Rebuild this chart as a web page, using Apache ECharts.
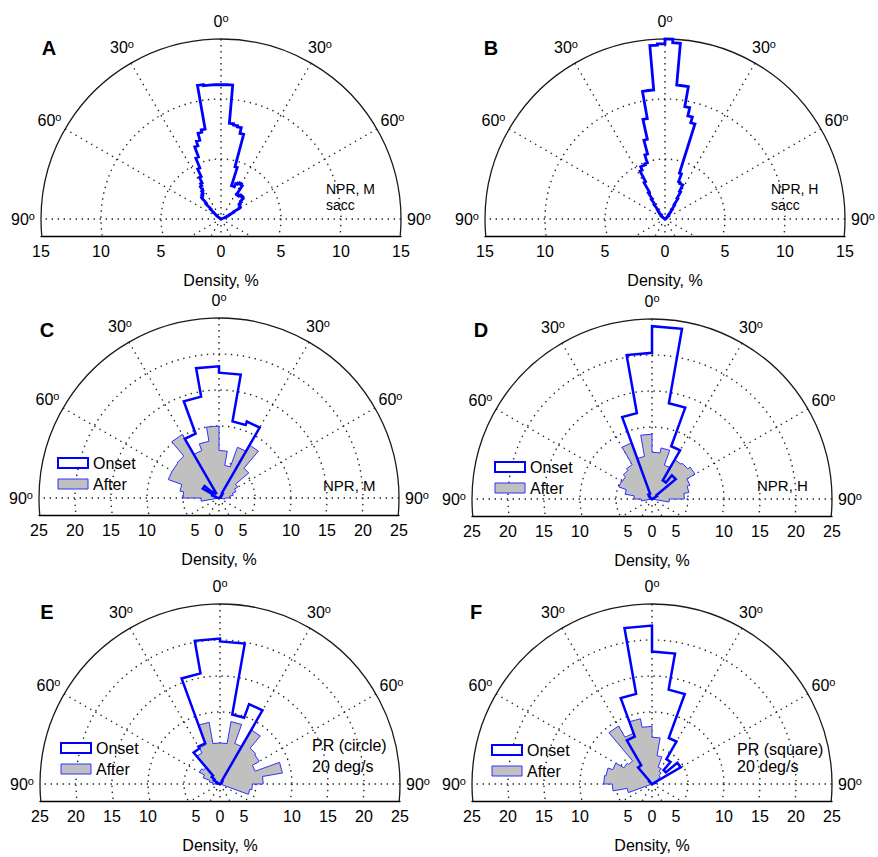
<!DOCTYPE html>
<html>
<head>
<meta charset="utf-8">
<script src="https://cdn.jsdelivr.net/npm/echarts@6/dist/echarts.min.js"></script>
<style>
  html, body { margin: 0; padding: 0; background: #ffffff; }
  #chart { width: 878px; height: 857px; }
</style>
</head>
<body>
<div id="chart"></div>
<script>
// ---------- data ----------
// Saccade direction histograms, 2.5 deg bins (panels A, B)
const saccEdges = [-55, -52.5, -50, -47.5, -45, -42.5, -40, -37.5, -35, -32.5, -30, -27.5, -25, -22.5,
  -20, -17.5, -15, -12.5, -10, -7.5, -5, -2.5, 0, 2.5, 5, 7.5, 10, 12.5, 15, 17.5, 20, 22.5, 25, 27.5,
  30, 32.5, 35, 37.5, 40, 42.5, 45, 47.5, 50, 52.5, 55, 57.5, 60, 62.5, 65, 67.5, 70];
const saccNprM = [0.3, 0.5, 0.8, 1.2, 1.8, 2.4, 2.5, 2.6, 2.8, 3.2, 3.4, 3.9, 4.6, 5.5, 6.4, 6.8, 7.4, 7.6,
  11.3, 11.2, 11.2, 11.2, 11.2, 11.2, 8.0, 7.9, 7.8, 7.3, 4.5, 2.9, 2.9, 3.2, 3.3, 3.4, 3.3, 2.4, 2.4, 2.5,
  2.6, 2.6, 2.5, 2.2, 2.0, 1.9, 1.9, 1.8, 1.2, 0.8, 0.6, 0.4];
const saccNprH = [0.2, 0.3, 0.4, 0.5, 0.6, 0.8, 1.0, 1.5, 2.0, 2.6, 3.5, 4.5, 4.8, 4.8, 4.9, 5.6, 6.8, 8.5,
  10.8, 10.8, 14.5, 14.6, 15.0, 14.7, 11.2, 11.2, 9.5, 8.8, 8.3, 4.0, 3.3, 3.2, 3.2, 2.6, 2.0, 1.4, 1.0, 0.7,
  0.5, 0.4, 0.3, 0.2, 0.2, 0.1, 0.1, 0.1, 0, 0, 0, 0];

// Pursuit direction histograms, 10 deg bins (panels C-F)
const pursuitEdges = [-110, -100, -90, -80, -70, -60, -50, -40, -30, -20, -10, 0, 10, 20, 30, 40, 50, 60,
  70, 80, 90, 100, 110];
const onsetNprM  = [0, 0, 0, 0.5, 1.0, 2.6, 1.2, 0.8, 9.5, 14.3, 18.3, 17.4, 10.8, 11.3, 0.8, 0.5, 0.3, 0.2, 0, 0, 0, 0];
const afterNprM  = [0, 2.5, 5.0, 5.5, 7.5, 7.5, 7.6, 10.2, 7.0, 8.0, 10.0, 6.6, 4.6, 7.5, 8.5, 5.4, 3.0, 2.5, 2.0, 1.5, 0.8, 0];
const onsetNprH  = [0, 0, 0, 0, 0, 0.3, 0.5, 0.8, 0.8, 12.1, 20.3, 24.0, 13.5, 7.8, 3.0, 4.3, 0.8, 0.3, 0, 0, 0, 0];
const afterNprH  = [0, 1.5, 2.5, 3.8, 4.9, 4.8, 5.2, 5.5, 8.3, 6.0, 9.0, 6.5, 7.2, 5.0, 6.3, 6.5, 6.9, 5.6, 5.2, 4.5, 2.4, 0];
const onsetCircle = [0, 0, 0, 0, 0.5, 1.0, 1.5, 5.7, 6.0, 15.6, 20.2, 19.8, 9.8, 11.8, 0.5, 0.3, 0.2, 0, 0, 0, 0, 0];
const afterCircle = [0, 0.5, 1.0, 1.5, 2.5, 3.3, 3.0, 5.0, 5.8, 8.7, 5.7, 5.7, 8.8, 6.0, 8.7, 6.5, 6.3, 5.2, 8.8, 6.0, 4.5, 4.2];
const onsetSquare = [0, 0, 0, 0, 0, 0, 0.5, 3.0, 7.0, 12.7, 22.0, 18.4, 13.3, 6.8, 4.0, 2.5, 4.6, 0.5, 0, 0, 0, 0];
const afterSquare = [3.5, 5.5, 6.7, 6.5, 5.8, 4.5, 4.2, 9.3, 7.5, 9.2, 8.0, 6.5, 4.0, 2.5, 2.0, 1.5, 1.2, 0.8, 0.5, 0.3, 0, 0];

// Axis / grid values
const degreeTicks = [-90, -60, -30, 0, 30, 60, 90];
const spokeAngles = [0, 30, 60, 90, -30, -60];
const ringsSacc = [5, 10];
const ringsPursuit = [5, 10, 15, 20];
const panelLetters = ['A', 'B', 'C', 'D', 'E', 'F'];

// ---------- layout & style ----------
const FONT = '"Liberation Sans", Arial, Helvetica, sans-serif';
const BLUE = '#0000ff';
const PX_R = 180;                       // outer radius in pixels
const panels = [
  { cx: 221, cy: 219, R: 15, cut: 1.4,  rings: ringsSacc,    squeeze: 0 },
  { cx: 665, cy: 219, R: 15, cut: 1.4,  rings: ringsSacc,    squeeze: 0 },
  { cx: 219, cy: 498, R: 25, cut: 2.35, rings: ringsPursuit, squeeze: 12 },
  { cx: 652, cy: 499, R: 25, cut: 2.35, rings: ringsPursuit, squeeze: 12 },
  { cx: 220, cy: 784, R: 25, cut: 2.35, rings: ringsPursuit, squeeze: 12 },
  { cx: 652, cy: 784, R: 25, cut: 2.35, rings: ringsPursuit, squeeze: 12 }
];
const letterPos = [[49, 48], [491, 48], [47, 330], [481, 330], [47, 612], [476, 612]];
// panel annotations: left x, top y, line height
const notes = [
  { x: 326, y: 181, lh: 16, text: 'NPR, M\nsacc', size: 14 },
  { x: 771, y: 181, lh: 16, text: 'NPR, H\nsacc', size: 14 },
  { x: 323, y: 477, lh: 16, text: 'NPR, M', size: 15 },
  { x: 757, y: 477, lh: 16, text: 'NPR, H', size: 15 },
  { x: 312, y: 735, lh: 21, text: 'PR (circle)\n20 deg/s', size: 16 },
  { x: 737, y: 741, lh: 17, text: 'PR (square)\n20 deg/s', size: 16 }
];
const legendPos = [null, null, [57, 455], [494, 459], [60, 740], [491, 742]];

const onsetStyle = { fill: 'none', stroke: BLUE, lineWidth: 2.5 };
const saccStyle  = { fill: 'none', stroke: BLUE, lineWidth: 2.8 };
const afterStyle = { fill: '#c0c0c0', stroke: '#3030ff', lineWidth: 1 };

// polar (deg from vertical, radius) -> data-space x/y
function toXY(deg, r) {
  const t = deg * Math.PI / 180;
  return [r * Math.sin(t), r * Math.cos(t)];
}
function clipOf(cs) {
  return { type: 'rect', shape: { x: cs.x - 4, y: cs.y - 4, width: cs.width + 8, height: cs.height + 4 } };
}

// dotted rings + spokes + solid outer circle
function frameSeries(g) {
  const p = panels[g];
  return {
    type: 'custom', coordinateSystem: 'cartesian2d', xAxisIndex: g, yAxisIndex: g,
    silent: true, z: 1, data: [[0, 0]],
    renderItem(params, api) {
      const c = api.coord([0, 0]);
      const dotted = { fill: 'none', stroke: '#222222', lineWidth: 1.4, lineDash: [1.4, 4.6] };
      const children = [];
      p.rings.forEach(r => {
        children.push({ type: 'circle', shape: { cx: c[0], cy: c[1], r: api.size([r, 0])[0] }, style: dotted });
      });
      spokeAngles.forEach(a => {
        const p1 = api.coord(toXY(a, p.R));
        const p2 = api.coord(toXY(a + 180, p.R));
        children.push({ type: 'line', shape: { x1: p1[0], y1: p1[1], x2: p2[0], y2: p2[1] }, style: dotted });
      });
      children.push({ type: 'circle', shape: { cx: c[0], cy: c[1], r: api.size([p.R, 0])[0] },
        style: { fill: 'none', stroke: '#1a1a1a', lineWidth: 1.3 } });
      return { type: 'group', clipPath: clipOf(params.coordSys), children };
    }
  };
}

// angle labels "0°", "30°" ... placed just outside the outer circle
function degreeSeries(g) {
  const p = panels[g];
  return {
    type: 'custom', coordinateSystem: 'cartesian2d', xAxisIndex: g, yAxisIndex: g,
    silent: true, z: 5, data: degreeTicks.map(d => [d]),
    renderItem(params, api) {
      const d = api.value(0);
      const pt = api.coord(toXY(d, p.R * 1.1));
      return {
        type: 'text', x: pt[0], y: pt[1],
        style: {
          text: '{n|' + Math.abs(d) + '}{s|o}',
          align: 'center', verticalAlign: 'middle',
          rich: {
            n: { fontSize: 16, fontFamily: FONT, fill: '#000', lineHeight: 18 },
            s: { fontSize: 11, fontFamily: FONT, fill: '#000', lineHeight: 11, verticalAlign: 'top' }
          }
        }
      };
    }
  };
}

// rose outline built from consecutive bins: centre -> chord of each bin -> centre
function roseSeries(name, g, edges, values, st, z) {
  return {
    name, type: 'custom', coordinateSystem: 'cartesian2d', xAxisIndex: g, yAxisIndex: g,
    silent: true, z,
    itemStyle: { color: st.fill === 'none' ? '#ffffff' : st.fill, borderColor: st.stroke, borderWidth: st.lineWidth },
    data: values.map((v, i) => [edges[i], edges[i + 1], v]),
    renderItem(params, api) {
      if (params.dataIndexInside !== 0) return null;
      const pts = [api.coord([0, 0])];
      for (let j = 0; j < params.dataInsideLength; j++) {
        const a0 = api.value(0, j), a1 = api.value(1, j), r = api.value(2, j);
        pts.push(api.coord(toXY(a0, r)), api.coord(toXY(a1, r)));
      }
      return {
        type: 'group', clipPath: clipOf(params.coordSys),
        children: [{ type: 'polygon', shape: { points: pts },
          style: { fill: st.fill, stroke: st.stroke, lineWidth: st.lineWidth, lineJoin: 'miter' } }]
      };
    }
  };
}

// ---------- option ----------
const grids = panels.map(p => ({
  left: p.cx - PX_R, top: p.cy - PX_R, width: 2 * PX_R,
  height: PX_R + p.cut * PX_R / p.R, containLabel: false, outerBoundsMode: 'none'
}));

const xAxes = panels.map((p, g) => ({
  gridIndex: g, type: 'value', min: -p.R, max: p.R, interval: 5,
  axisLine: { show: true, onZero: false, lineStyle: { color: '#000', width: 1.3 } },
  axisTick: { show: false }, splitLine: { show: false },
  axisLabel: {
    show: true, margin: 8, fontSize: 16, color: '#000', fontFamily: FONT,
    showMinLabel: true, showMaxLabel: true,
    formatter: v => {
      if (p.squeeze && v === -5) return '{r|5}';
      if (p.squeeze && v === 5) return '{l|5}';
      return String(Math.abs(v));
    },
    rich: {
      r: { fontSize: 16, color: '#000', fontFamily: FONT, padding: [0, 0, 0, 2 * p.squeeze] },
      l: { fontSize: 16, color: '#000', fontFamily: FONT, padding: [0, 2 * p.squeeze, 0, 0] }
    }
  },
  name: 'Density, %', nameLocation: 'middle', nameGap: 37,
  nameTextStyle: { fontSize: 16, color: '#000', fontFamily: FONT }
}));

const yAxes = panels.map((p, g) => ({
  gridIndex: g, type: 'value', min: -p.cut, max: p.R, show: false,
  splitLine: { show: false }
}));

const series = [];
panels.forEach((p, g) => { series.push(frameSeries(g), degreeSeries(g)); });
series.push(roseSeries('NPR, M sacc', 0, saccEdges, saccNprM, saccStyle, 3));
series.push(roseSeries('NPR, H sacc', 1, saccEdges, saccNprH, saccStyle, 3));
[[afterNprM, onsetNprM], [afterNprH, onsetNprH], [afterCircle, onsetCircle], [afterSquare, onsetSquare]]
  .forEach((pair, k) => {
    series.push(roseSeries('After', k + 2, pursuitEdges, pair[0], afterStyle, 2));
    series.push(roseSeries('Onset', k + 2, pursuitEdges, pair[1], onsetStyle, 3));
  });

const legends = [];
legendPos.forEach(pos => {
  if (!pos) return;
  legends.push({
    left: pos[0], top: pos[1], orient: 'vertical', itemWidth: 30, itemHeight: 10, itemGap: 5,
    selectedMode: false, padding: 0,
    textStyle: { fontSize: 16, color: '#000', fontFamily: FONT, lineHeight: 16 },
    data: [
      { name: 'Onset', icon: 'rect', itemStyle: { color: '#ffffff', borderColor: BLUE, borderWidth: 2 } },
      { name: 'After', icon: 'rect', itemStyle: { color: '#c0c0c0', borderColor: '#3030ff', borderWidth: 1 } }
    ]
  });
});

const graphics = [];
panelLetters.forEach((t, i) => {
  graphics.push({ type: 'text', x: letterPos[i][0], y: letterPos[i][1], silent: true,
    style: { text: t, fontSize: 20, fontWeight: 'bold', fontFamily: FONT, fill: '#000',
      align: 'center', verticalAlign: 'middle' } });
});
notes.forEach(n => {
  graphics.push({ type: 'text', x: n.x, y: n.y, silent: true,
    style: { text: n.text, fontSize: n.size, lineHeight: n.lh, fontFamily: FONT, fill: '#000',
      align: 'left', verticalAlign: 'top' } });
});

const chart = echarts.init(document.getElementById('chart'), null, { renderer: 'svg' });
chart.setOption({
  backgroundColor: '#ffffff',
  animation: false,
  textStyle: { fontFamily: FONT },
  grid: grids,
  xAxis: xAxes,
  yAxis: yAxes,
  legend: legends,
  graphic: { elements: graphics },
  series
});
</script>
</body>
</html>
